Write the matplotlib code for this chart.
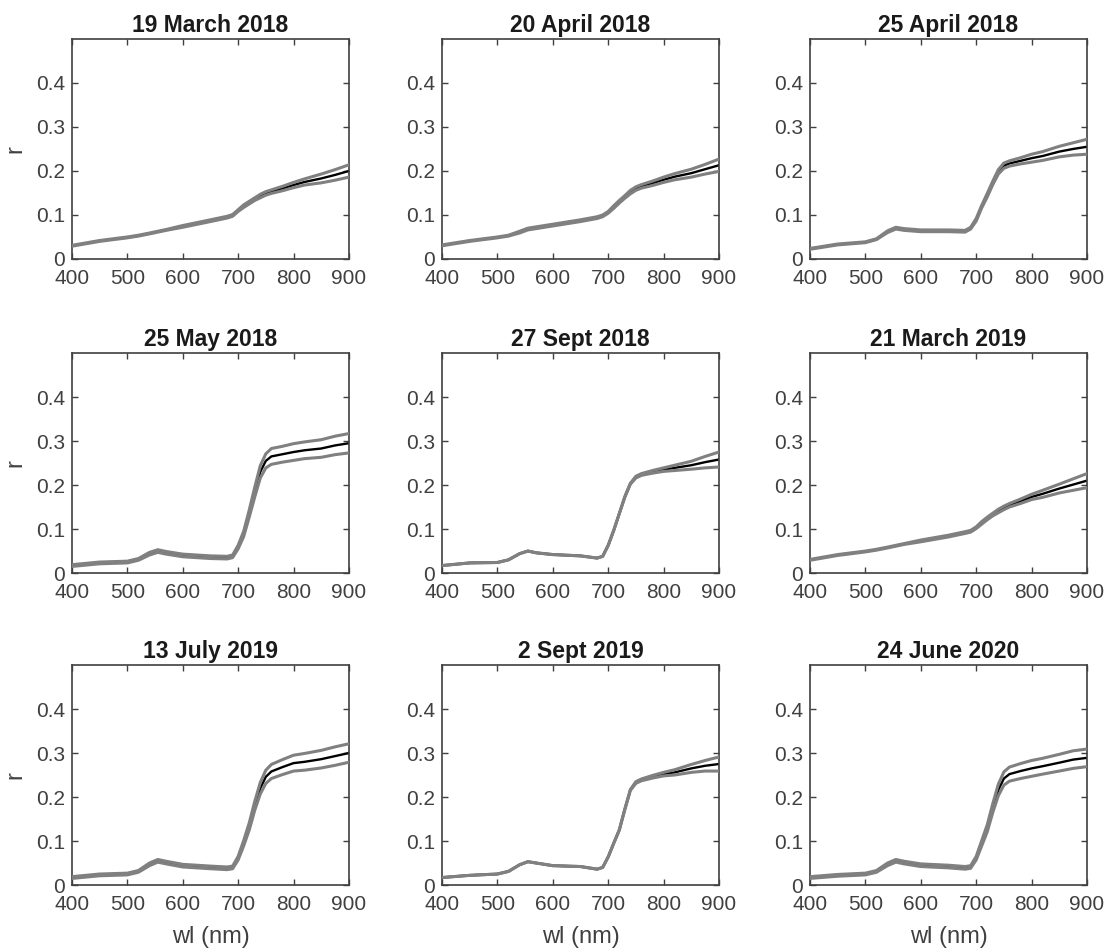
import numpy as np
import matplotlib
matplotlib.use("Agg")
import matplotlib.pyplot as plt

plt.rcParams['font.family'] = ['Liberation Sans', 'DejaVu Sans']

# wavelength grid (nm) shared by every date
wl = [400, 450, 500, 520, 540, 555, 570, 600, 650, 680, 690, 700,
      710, 720, 730, 740, 750, 760, 780, 800, 820, 850, 875, 900]

titles = ["19 March 2018", "20 April 2018", "25 April 2018",
          "25 May 2018", "27 Sept 2018", "21 March 2019",
          "13 July 2019", "2 Sept 2019", "24 June 2020"]

# mean reflectance per date
r_mar18 = [.030, .041, .049, .053, .058, .062, .066, .074, .087, .095, .099, .110,
           .120, .128, .136, .143, .149, .153, .160, .168, .175, .183, .191, .200]
r_apr18a = [.031, .041, .049, .053, .061, .068, .071, .077, .087, .094, .098, .106,
            .118, .130, .141, .152, .160, .165, .172, .180, .187, .195, .204, .213]
r_apr18b = [.023, .033, .038, .045, .062, .070, .067, .064, .064, .063, .070, .089,
            .119, .145, .173, .198, .212, .217, .223, .229, .234, .244, .250, .255]
r_may18 = [.017, .023, .025, .031, .044, .050, .046, .040, .036, .035, .038, .059,
           .089, .135, .184, .230, .255, .265, .270, .275, .279, .283, .290, .295]
r_sep18 = [.017, .023, .024, .030, .044, .050, .046, .042, .039, .034, .038, .063,
           .097, .135, .173, .203, .218, .224, .230, .235, .239, .245, .252, .258]
r_mar19 = [.030, .041, .049, .053, .058, .062, .066, .073, .084, .092, .095, .103,
           .114, .124, .133, .141, .148, .154, .163, .173, .180, .192, .201, .210]
r_jul19 = [.017, .023, .025, .031, .047, .055, .051, .044, .040, .038, .040, .061,
           .095, .133, .180, .220, .246, .258, .268, .277, .280, .286, .293, .300]
r_sep19 = [.017, .022, .025, .031, .046, .053, .050, .044, .042, .036, .040, .064,
           .095, .125, .172, .216, .233, .239, .246, .252, .256, .265, .271, .275]
r_jun20 = [.017, .022, .025, .031, .047, .055, .051, .045, .042, .039, .041, .061,
           .095, .129, .175, .216, .242, .252, .259, .265, .270, .278, .285, .289]

# half-width of the envelope around each mean
s_mar18 = [.001, .001, .001, .001, .001, .001, .001, .002, .002, .002, .002, .002,
           .003, .003, .003, .004, .004, .004, .005, .006, .007, .010, .012, .014]
s_apr18a = [.001, .001, .001, .001, .002, .002, .002, .002, .002, .002, .002, .002,
            .003, .003, .003, .004, .004, .004, .005, .006, .007, .009, .011, .014]
s_apr18b = [.001, .001, .001, .001, .002, .002, .002, .002, .002, .002, .002, .003,
            .003, .004, .004, .005, .006, .006, .007, .009, .010, .012, .014, .017]
s_may18 = [.002, .002, .002, .002, .003, .003, .003, .003, .003, .003, .003, .004,
           .006, .008, .011, .014, .016, .018, .018, .019, .019, .020, .021, .022]
s_sep18 = [.000, .000, .000, .000, .000, .000, .000, .000, .000, .000, .000, .000,
           .000, .000, .001, .001, .002, .002, .003, .004, .006, .009, .013, .017]
s_mar19 = [.001, .001, .001, .001, .001, .001, .001, .002, .002, .002, .002, .002,
           .003, .003, .003, .004, .004, .004, .005, .006, .008, .010, .013, .016]
s_jul19 = [.002, .002, .002, .002, .003, .003, .003, .003, .003, .003, .003, .004,
           .006, .008, .010, .013, .015, .016, .017, .018, .019, .020, .021, .021]
s_sep19 = [.000, .000, .000, .000, .000, .000, .000, .000, .000, .000, .000, .000,
           .000, .000, .001, .001, .002, .002, .003, .004, .006, .009, .012, .016]
s_jun20 = [.002, .002, .002, .002, .003, .003, .003, .003, .003, .003, .003, .004,
           .006, .008, .010, .013, .015, .016, .017, .018, .018, .019, .020, .020]

means = [r_mar18, r_apr18a, r_apr18b, r_may18, r_sep18, r_mar19, r_jul19, r_sep19, r_jun20]
spreads = [s_mar18, s_apr18a, s_apr18b, s_may18, s_sep18, s_mar19, s_jul19, s_sep19, s_jun20]

axcol = '#404040'
fig = plt.figure(figsize=(11.07, 9.5), dpi=100)

lefts = [0.065, 0.3993, 0.7317]
bottoms = [0.7274, 0.3968, 0.0684]
w, h = 0.2502, 0.2316

for i in range(9):
    row, col = divmod(i, 3)
    ax = fig.add_axes([lefts[col], bottoms[row], w, h])
    m = np.array(means[i])
    s = np.array(spreads[i])
    ax.plot(wl, m, color='black', lw=1.7, zorder=2)
    ax.plot(wl, m + s, color='#808080', lw=2.2, zorder=3)
    ax.plot(wl, m - s, color='#808080', lw=2.2, zorder=3)

    ax.set_xlim(400, 900)
    ax.set_ylim(0, 0.5)
    ax.set_xticks([400, 500, 600, 700, 800, 900])
    ax.set_yticks([0, 0.1, 0.2, 0.3, 0.4])
    ax.set_yticklabels(['0', '0.1', '0.2', '0.3', '0.4'])
    ax.tick_params(direction='in', top=True, right=True, length=4, width=1,
                   color=axcol, labelcolor=axcol, labelsize=15)
    ax.tick_params(axis='x', pad=7)
    ax.tick_params(axis='y', pad=5)
    for sp in ax.spines.values():
        sp.set_color(axcol)
        sp.set_linewidth(1.2)
    ax.set_title(titles[i], fontsize=16.5, fontweight='bold', color='#1a1a1a', pad=5)
    if col == 0:
        ax.set_ylabel('r', fontsize=17, color=axcol, labelpad=7)
    if row == 2:
        ax.set_xlabel('wl (nm)', fontsize=17, color=axcol, labelpad=9)

fig.savefig('out.png', dpi=100)
